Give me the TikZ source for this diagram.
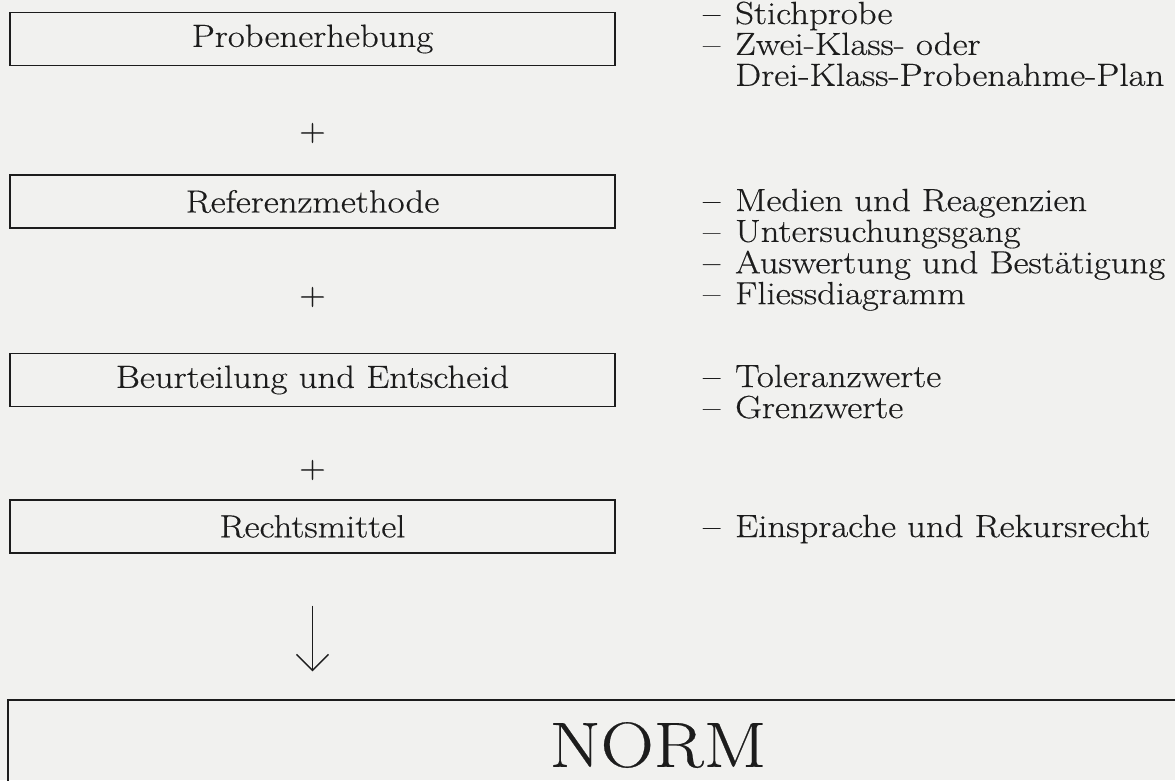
\documentclass[tikz,border=0pt]{standalone}
\usepackage{fontspec}
\setmainfont{Latin Modern Roman}[FakeStretch=1.15,FakeBold=0.4]
\usetikzlibrary{arrows.meta}
\definecolor{paper}{HTML}{F1F1EF}
\definecolor{ink}{HTML}{1C1C1C}
\newcommand{\txtfont}{\fontsize{32}{29}\selectfont}
\begin{document}
\begin{tikzpicture}[x=1pt,y=-1pt,
  stepbox/.style={draw=ink, line width=1.3pt, minimum width=605pt, minimum height=53pt,
    inner sep=0pt, text=ink, font=\txtfont},
  plusnode/.style={inner sep=0pt, text=ink, font=\txtfont},
  listnode/.style={anchor=base west, inner sep=0pt, text=ink, font=\txtfont},
  arr/.style={draw=ink, line width=1.4pt, -{Straight Barb[length=16pt,width=32pt]}}]
\fill[paper] (0,0) rectangle (1175,780);
\useasboundingbox (0,0) rectangle (1175,780);

\node[stepbox] (b1) at (312.5,39) {Probenerhebung};
\node[stepbox] (b2) at (312.5,201.5) {Referenzmethode};
\node[stepbox] (b3) at (312.5,380) {Beurteilung und Entscheid};
\node[stepbox] (b4) at (312.5,526.5) {Rechtsmittel};
\node[draw=ink, line width=1.3pt, minimum width=1300pt, minimum height=90pt, inner sep=0pt,
  text=ink, font=\fontsize{64}{64}\selectfont] (norm) at (658,745) {NORM};

\node[plusnode] (p1) at (312.5,133) {+};
\node[plusnode] (p2) at (312.5,297) {+};
\node[plusnode] (p3) at (312.5,470) {+};

\node[listnode] (l1) at (703,24) {\begin{tabular}[t]{@{}p{32pt}@{}l@{}}
– & Stichprobe\\
– & Zwei-Klass- oder\\
  & Drei-Klass-Probenahme-Plan
\end{tabular}};
\node[listnode] (l2) at (703,211) {\begin{tabular}[t]{@{}p{32pt}@{}l@{}}
– & Medien und Reagenzien\\
– & Untersuchungsgang\\
– & Auswertung und Bestätigung\\
– & Fliessdiagramm
\end{tabular}};
\node[listnode] (l3) at (703,387) {\begin{tabular}[t]{@{}p{32pt}@{}l@{}}
– & Toleranzwerte\\
– & Grenzwerte
\end{tabular}};
\node[listnode] (l4) at (703,537) {\begin{tabular}[t]{@{}p{32pt}@{}l@{}}
– & Einsprache und Rekursrecht
\end{tabular}};

\draw[arr, shorten <=52pt, shorten >=28pt] (b4.south) -- (b4.south |- norm.north);
\end{tikzpicture}
\end{document}
